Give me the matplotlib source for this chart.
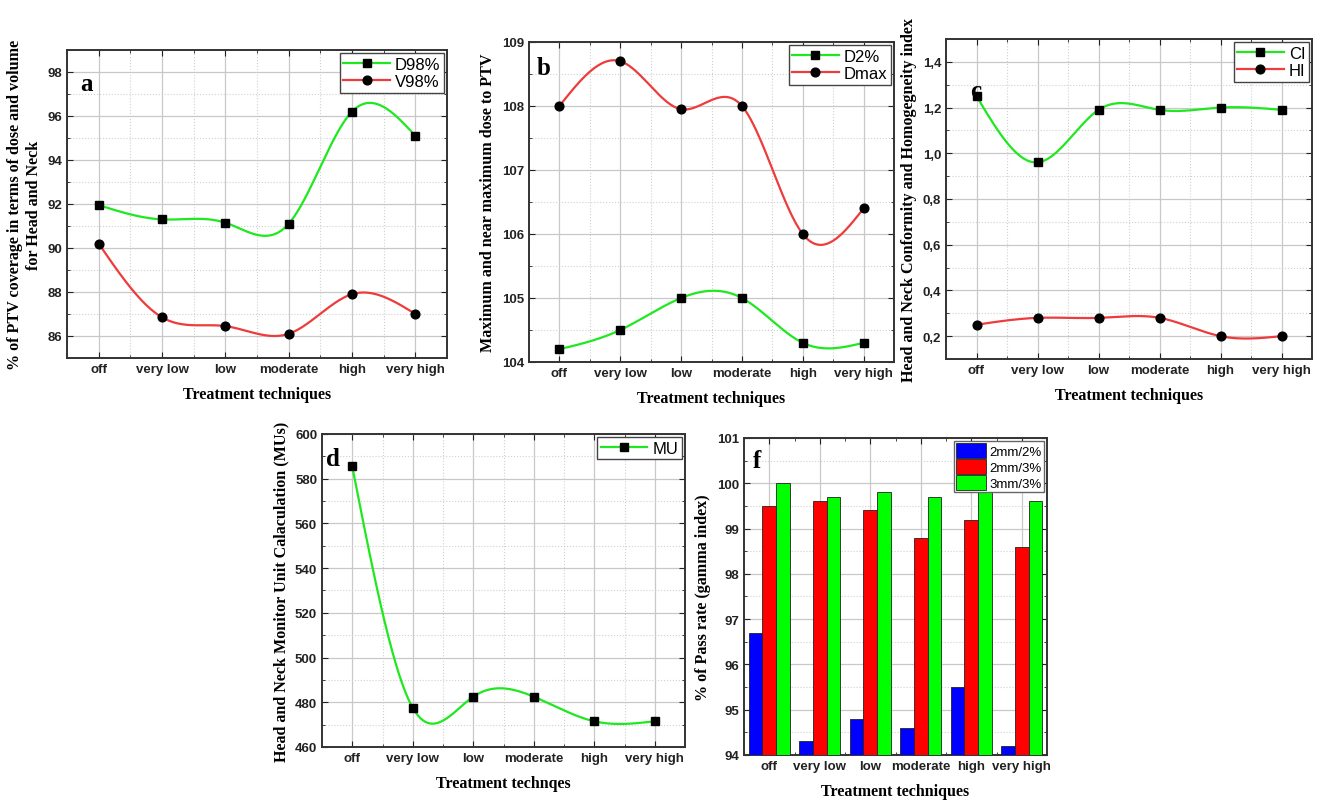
import numpy as np
import matplotlib.pyplot as plt
from matplotlib.lines import Line2D
from matplotlib.ticker import MultipleLocator, FuncFormatter

techniques = ["off", "very low", "low", "moderate", "high", "very high"]

d98 = [91.95, 91.3, 91.15, 91.1, 96.2, 95.1]
v98 = [90.2, 86.85, 86.45, 86.1, 87.9, 87.0]

d2 = [104.2, 104.5, 105.0, 105.0, 104.3, 104.3]
dmax = [108.0, 108.7, 107.95, 108.0, 106.0, 106.4]

ci = [1.25, 0.96, 1.19, 1.19, 1.2, 1.19]
hi = [0.25, 0.28, 0.28, 0.28, 0.2, 0.2]

mu = [585.5, 477.5, 482.5, 482.5, 471.5, 471.5]

g22 = [96.7, 94.3, 94.8, 94.6, 95.5, 94.2]
g23 = [99.5, 99.6, 99.4, 98.8, 99.2, 98.6]
g33 = [100.0, 99.7, 99.8, 99.7, 99.8, 99.6]

GREEN = "#1fe81f"
RED = "#ee3b3b"
W, H = 1320, 803

plt.rcParams['font.family'] = ['Liberation Sans', 'DejaVu Sans']


def spline(y, n=300):
    # natural cubic spline through the points (like Origin's "spline" connect)
    y = np.asarray(y, float)
    k = len(y)
    A = np.zeros((k, k))
    b = np.zeros(k)
    A[0, 0] = A[-1, -1] = 1
    for i in range(1, k - 1):
        A[i, i - 1], A[i, i], A[i, i + 1] = 1, 4, 1
        b[i] = 6 * (y[i + 1] - 2 * y[i] + y[i - 1])
    M = np.linalg.solve(A, b)
    xs = np.linspace(0, k - 1, n)
    i = np.minimum(xs.astype(int), k - 2)
    t = xs - i
    ys = (M[i] * (1 - t) ** 3 / 6 + M[i + 1] * t ** 3 / 6
          + (y[i] - M[i] / 6) * (1 - t) + (y[i + 1] - M[i + 1] / 6) * t)
    return xs, ys


def make_ax(l, t, r, b):
    return fig.add_axes([l / W, 1 - b / H, (r - l) / W, (b - t) / H])


def style(ax, ylo, yhi, ymaj, ymin, ylabel, xlabel="Treatment techniques", xminor_grid=True):
    ax.set_xlim(-0.5, 5.5)
    ax.set_ylim(ylo, yhi)
    ax.set_xticks(range(6))
    ax.set_xticklabels(techniques)
    ax.set_xticks(np.arange(-0.5, 6, 1), minor=True)
    ax.yaxis.set_major_locator(MultipleLocator(ymaj))
    ax.yaxis.set_minor_locator(MultipleLocator(ymin))
    ax.grid(True, which='major', color='#c8c8c8', lw=0.9, ls='-')
    ax.grid(True, which='minor', axis='y', color='#d0d0d0', lw=0.8, ls=':')
    if xminor_grid:
        ax.grid(True, which='minor', axis='x', color='#d0d0d0', lw=0.8, ls=':')
    ax.set_axisbelow(True)
    ax.tick_params(which='both', direction='in', top=True, right=True,
                   labelsize=9.5, colors='#222222')
    ax.tick_params(which='major', length=4)
    ax.tick_params(which='minor', length=2)
    for lab in ax.get_xticklabels() + ax.get_yticklabels():
        lab.set_fontweight('bold')
    for s in ax.spines.values():
        s.set_linewidth(1.4)
        s.set_color('#333333')
    ax.set_xlabel(xlabel, family='Liberation Serif', weight='bold', fontsize=11.5, labelpad=8)
    ax.set_ylabel(ylabel, family='Liberation Serif', weight='bold', fontsize=11.6, labelpad=4)


def curve(ax, y, color, marker):
    xs, ys = spline(y)
    ax.plot(xs, ys, color=color, lw=1.6, zorder=3)
    ax.plot(range(6), y, ls='none', marker=marker, color='black', ms=6.3, zorder=4)
    return Line2D([], [], color=color, lw=1.6, marker=marker, mfc='black', mec='black', ms=6.3)


def leg(ax, handles, labels, fs=12):
    ax.legend(handles, labels, loc='upper right', fontsize=fs, fancybox=False,
              framealpha=1, edgecolor='#444444', borderpad=0.2, handlelength=2.8,
              borderaxespad=0.2, labelspacing=0.15, handletextpad=0.3)


def letter(ax, x, y, s):
    ax.text(x, y, s, transform=ax.transAxes, family='Liberation Serif',
            weight='bold', fontsize=18, va='top', ha='left', zorder=6)


fig = plt.figure(figsize=(13.2, 8.03), dpi=100)

# a
ax = make_ax(67, 51, 447, 359)
h1 = curve(ax, d98, GREEN, 's')
h2 = curve(ax, v98, RED, 'o')
style(ax, 85, 99, 2, 1, "% of PTV coverage in terms of dose and volume\nfor Head and Neck")
leg(ax, [h1, h2], ["D98%", "V98%"])
letter(ax, 0.035, 0.93, "a")

# b
ax = make_ax(529, 43, 894, 363)
h1 = curve(ax, d2, GREEN, 's')
h2 = curve(ax, dmax, RED, 'o')
style(ax, 104, 109, 1, 0.5, "Maximum and near maximum dose to PTV")
leg(ax, [h1, h2], ["D2%", "Dmax"])
letter(ax, 0.02, 0.955, "b")

# c
ax = make_ax(946, 40, 1312, 360)
h1 = curve(ax, ci, GREEN, 's')
h2 = curve(ax, hi, RED, 'o')
style(ax, 0.1, 1.5, 0.2, 0.1, "Head and Neck Conformity and Homogegneity index")
ax.yaxis.set_major_formatter(FuncFormatter(lambda v, p: f"{v:.1f}".replace('.', ',')))
for lab in ax.get_yticklabels():
    lab.set_fontweight('bold')
leg(ax, [h1, h2], ["CI", "HI"])
letter(ax, 0.065, 0.875, "c")

# d
ax = make_ax(322, 435, 685, 748)
h1 = curve(ax, mu, GREEN, 's')
style(ax, 460, 600, 20, 10, "Head and Neck Monitor Unit Calaculation (MUs)",
      xlabel="Treatment technqes")
leg(ax, [h1], ["MU"])
letter(ax, 0.012, 0.96, "d")

# f
ax = make_ax(744, 439, 1047, 756)
x = np.arange(6)
bw = 0.27
ax.bar(x - bw, g22, bw, color='#0000ff', edgecolor='#222222', lw=0.6, label="2mm/2%", zorder=3)
ax.bar(x, g23, bw, color='#ff0000', edgecolor='#222222', lw=0.6, label="2mm/3%", zorder=3)
ax.bar(x + bw, g33, bw, color='#00ff00', edgecolor='#222222', lw=0.6, label="3mm/3%", zorder=3)
style(ax, 94, 101, 1, 0.5, "% of Pass rate (gamma index)", xminor_grid=False)
ax.legend(loc='upper right', fontsize=9.5, fancybox=False, framealpha=1, edgecolor='#666666',
          borderpad=0.2, borderaxespad=0.2, labelspacing=0.1, handlelength=2.2,
          handleheight=1.3, handletextpad=0.3)
letter(ax, 0.03, 0.965, "f")

fig.savefig("out.png", dpi=100)
